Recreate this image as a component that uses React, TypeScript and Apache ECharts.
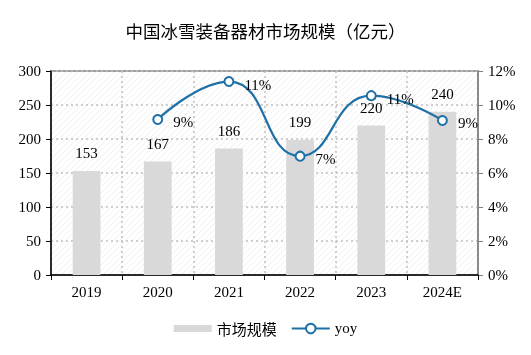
import React, { useEffect, useRef } from "react";
import * as echarts from "echarts";

const categories = ["2019", "2020", "2021", "2022", "2023", "2024E"];
const marketSize = [153, 167, 186, 199, 220, 240];
const yoy = [null, 9.15, 11.38, 6.99, 10.55, 9.09];
const yoyLabels = ["", "9%", "11%", "7%", "11%", "9%"];

const SERIF = "'Liberation Serif', 'DejaVu Serif', serif";
const CJK = "'Noto Sans CJK SC', sans-serif";

export default function App() {
  const ref = useRef<HTMLDivElement>(null);
  useEffect(() => {
    if (!ref.current) return;
    const chart = echarts.init(ref.current, null, { renderer: "svg" });

    const cv = document.createElement("canvas");
    cv.width = 6;
    cv.height = 6;
    const ctx = cv.getContext("2d");
    if (ctx) {
      ctx.fillStyle = "#ffffff";
      ctx.fillRect(0, 0, 6, 6);
      ctx.strokeStyle = "#f0f0f0";
      ctx.lineWidth = 1;
      ctx.beginPath();
      ctx.moveTo(-1, 7);
      ctx.lineTo(7, -1);
      ctx.stroke();
    }

    chart.setOption({
      animation: false,
      title: {
        text: "中国冰雪装备器材市场规模（亿元）",
        left: "center",
        top: 17,
        textStyle: { fontFamily: CJK, fontSize: 17.5, fontWeight: "normal", color: "#000" },
      },
      legend: {
        bottom: 14,
        left: "center",
        itemGap: 14,
        itemWidth: 38,
        itemHeight: 12,
        data: [
          {
            name: "市场规模",
            icon: "path://M0,0L0.01,0L0.01,0.01Z M0,2.5L38,2.5L38,9.5L0,9.5Z M37.99,12L38,12L38,11.99Z",
            itemStyle: { color: "#d9d9d9" },
          },
          { name: "yoy" },
        ],
        formatter: (n: string) => (n === "yoy" ? "{s|yoy}" : "{c|" + n + "}"),
        textStyle: {
          color: "#000",
          rich: {
            s: { fontFamily: SERIF, fontSize: 15, color: "#000" },
            c: { fontFamily: CJK, fontSize: 15, color: "#000" },
          },
        },
      },
      grid: {
        left: 51,
        right: 53,
        top: 71,
        bottom: 80,
        show: true,
        borderColor: "#808080",
        borderWidth: 1.5,
        backgroundColor: { image: cv, repeat: "repeat" } as any,
      },
      xAxis: {
        type: "category",
        data: categories,
        boundaryGap: true,
        axisLine: { lineStyle: { color: "#000", width: 1.5 } },
        axisTick: { show: true, length: 5, lineStyle: { color: "#000" } },
        axisLabel: { fontFamily: SERIF, fontSize: 15, color: "#000", margin: 9 },
        splitLine: { show: true, lineStyle: { color: "#c0c0c0", type: [2, 3], width: 1.5 } },
      },
      yAxis: [
        {
          type: "value",
          min: 0,
          max: 300,
          interval: 50,
          axisLine: { show: true, lineStyle: { color: "#000", width: 1.5 } },
          axisTick: { show: true, length: 5, lineStyle: { color: "#000" } },
          axisLabel: { fontFamily: SERIF, fontSize: 15, color: "#000", margin: 10 },
          splitLine: { show: true, lineStyle: { color: "#c0c0c0", type: [2, 3], width: 1.5 } },
        },
        {
          type: "value",
          min: 0,
          max: 12,
          interval: 2,
          axisLine: { show: true, lineStyle: { color: "#808080", width: 1.5 } },
          axisTick: { show: true, length: 5, lineStyle: { color: "#808080" } },
          axisLabel: { fontFamily: SERIF, fontSize: 15, color: "#000", margin: 10, formatter: "{value}%" },
          splitLine: { show: false },
        },
      ],
      series: [
        {
          name: "市场规模",
          type: "bar",
          data: marketSize,
          barWidth: "39%",
          itemStyle: { color: "#d9d9d9" },
          label: {
            show: true,
            position: "top",
            distance: 10,
            fontFamily: SERIF,
            fontSize: 15,
            color: "#000",
          },
        },
        {
          name: "yoy",
          type: "line",
          yAxisIndex: 1,
          data: yoy,
          smooth: 0.5,
          symbol: "emptyCircle",
          symbolSize: 9,
          lineStyle: { color: "#1f70a6", width: 2.2 },
          itemStyle: { color: "#1f70a6", borderWidth: 2 },
          label: {
            show: true,
            position: "right",
            distance: 10,
            offset: [0, 3],
            fontFamily: SERIF,
            fontSize: 15,
            color: "#000",
            formatter: (p: any) => yoyLabels[p.dataIndex],
          },
        },
      ],
    });
    return () => chart.dispose();
  }, []);
  return (
    <div
      ref={ref}
      style={{ position: "fixed", left: 0, top: 0, width: 531, height: 355 }}
    />
  );
}
